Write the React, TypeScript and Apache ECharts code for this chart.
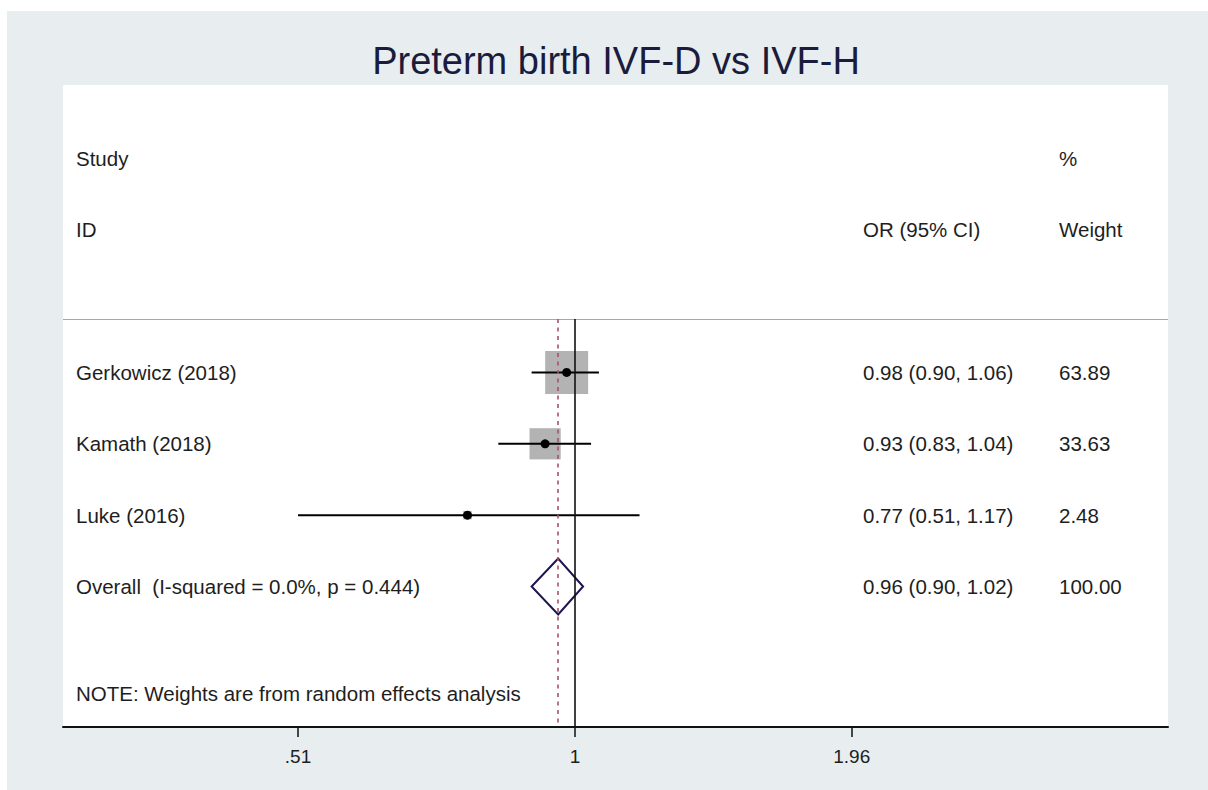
import React, { useEffect, useRef } from 'react';
import * as echarts from 'echarts';

const chartTitle = 'Preterm birth IVF-D vs IVF-H';
const studies = ['Gerkowicz (2018)', 'Kamath (2018)', 'Luke (2016)'];
const estimates = [0.98, 0.93, 0.77];
const lowerCI = [0.9, 0.83, 0.51];
const upperCI = [1.06, 1.04, 1.17];
const weights = [63.89, 33.63, 2.48];
const overallLabel = 'Overall  (I-squared = 0.0%, p = 0.444)';
const overallEstimate = [0.96];
const overallLower = [0.9];
const overallUpper = [1.02];
const overallWeight = [100.0];
const tickValues = [0.51, 1, 1.96];
const tickLabels = ['.51', '1', '1.96'];
const noteText = 'NOTE: Weights are from random effects analysis';

const FONT = '"Liberation Sans", Arial, Helvetica, sans-serif';
const TXT = '#1e1e1e';
const COL_STUDY = 76;
const COL_OR = 863;
const COL_W = 1059;
const FIRST_ROW = 3;
const SEP_ROW = 2.25;
const Y_MIN = -1.03;
const Y_MAX = 7.97;
const X_MIN = 0.288;
const X_MAX = 4.229;
const BOX_SCALE = 43 / Math.sqrt(63.89);

const fmt = (v: number) => v.toFixed(2);

export default function App() {
  const ref = useRef<HTMLDivElement>(null);
  useEffect(() => {
    if (!ref.current) return;
    const chart = echarts.init(ref.current, undefined, { renderer: 'svg' });

    const studyData = studies.map((s, i) => [estimates[i], lowerCI[i], upperCI[i], weights[i], i + FIRST_ROW]);
    const overallRow = FIRST_ROW + studies.length;
    const diamondData = overallEstimate.map((e, i) => [e, overallLower[i], overallUpper[i], overallRow]);

    type TextRow = { text: string; x: number; row: number };
    const textRows: TextRow[] = [
      { text: 'Study', x: COL_STUDY, row: 0 },
      { text: '%', x: COL_W, row: 0 },
      { text: 'ID', x: COL_STUDY, row: 1 },
      { text: 'OR (95% CI)', x: COL_OR, row: 1 },
      { text: 'Weight', x: COL_W, row: 1 },
    ];
    studies.forEach((s, i) => {
      textRows.push({ text: s, x: COL_STUDY, row: i + FIRST_ROW });
      textRows.push({ text: `${fmt(estimates[i])} (${fmt(lowerCI[i])}, ${fmt(upperCI[i])})`, x: COL_OR, row: i + FIRST_ROW });
      textRows.push({ text: fmt(weights[i]), x: COL_W, row: i + FIRST_ROW });
    });
    textRows.push({ text: overallLabel, x: COL_STUDY, row: overallRow });
    textRows.push({
      text: `${fmt(overallEstimate[0])} (${fmt(overallLower[0])}, ${fmt(overallUpper[0])})`,
      x: COL_OR,
      row: overallRow,
    });
    textRows.push({ text: fmt(overallWeight[0]), x: COL_W, row: overallRow });
    textRows.push({ text: noteText, x: COL_STUDY, row: overallRow + 1.5 });

    chart.setOption({
      animation: false,
      backgroundColor: '#e8eef0',
      graphic: [
        { type: 'rect', left: 0, top: 0, shape: { width: 1208, height: 11 }, style: { fill: '#ffffff' } },
        { type: 'rect', left: 0, top: 0, shape: { width: 7, height: 790 }, style: { fill: '#ffffff' } },
        {
          type: 'text',
          x: 616,
          y: 61,
          style: {
            text: chartTitle,
            align: 'center',
            verticalAlign: 'middle',
            fontSize: 38,
            fontFamily: FONT,
            fill: '#1b1b3d',
          },
        },
      ],
      grid: {
        left: 63,
        right: 40,
        top: 85,
        bottom: 63,
        show: true,
        backgroundColor: '#ffffff',
        borderWidth: 0,
      },
      xAxis: {
        type: 'log',
        logBase: 1.96,
        min: X_MIN,
        max: X_MAX,
        position: 'bottom',
        axisLine: { show: true, onZero: false, lineStyle: { color: '#111', width: 2 } },
        axisTick: { show: true, customValues: tickValues, length: 10, lineStyle: { color: '#111', width: 1.5 } },
        axisLabel: {
          customValues: tickValues,
          formatter: (v: number) => {
            const idx = tickValues.findIndex((t) => Math.abs(t - v) < 1e-6);
            return idx >= 0 ? tickLabels[idx] : '';
          },
          margin: 20,
          fontSize: 19,
          fontFamily: FONT,
          color: TXT,
        },
        splitLine: { show: false },
        minorTick: { show: false },
      },
      yAxis: {
        type: 'value',
        inverse: true,
        min: Y_MIN,
        max: Y_MAX,
        show: false,
        splitLine: { show: false },
      },
      series: [
        {
          type: 'scatter',
          data: [],
          silent: true,
          markLine: {
            silent: true,
            symbol: 'none',
            label: { show: false },
            data: [
              [
                { coord: [X_MIN, SEP_ROW], lineStyle: { color: '#a8a8a8', width: 1, type: 'solid' } },
                { coord: [X_MAX, SEP_ROW] },
              ],
              [
                { coord: [1, SEP_ROW], lineStyle: { color: '#111', width: 1.6, type: 'solid' } },
                { coord: [1, Y_MAX] },
              ],
              [
                {
                  coord: [overallEstimate[0], SEP_ROW],
                  lineStyle: { color: '#a4546a', width: 1.6, type: [4, 4.5] },
                },
                { coord: [overallEstimate[0], Y_MAX] },
              ],
            ],
          },
        },
        {
          type: 'custom',
          data: studyData,
          encode: { x: [0, 1, 2], y: 4 },
          renderItem: (params: any, api: any) => {
            const est = api.value(0);
            const lo = api.value(1);
            const hi = api.value(2);
            const w = api.value(3);
            const row = api.value(4);
            const c = api.coord([est, row]);
            const l = api.coord([lo, row]);
            const h = api.coord([hi, row]);
            const side = BOX_SCALE * Math.sqrt(w);
            return {
              type: 'group',
              children: [
                {
                  type: 'rect',
                  shape: { x: c[0] - side / 2, y: c[1] - side / 2, width: side, height: side },
                  style: { fill: '#b3b3b3' },
                },
                {
                  type: 'line',
                  shape: { x1: l[0], y1: l[1], x2: h[0], y2: h[1] },
                  style: { stroke: '#000', lineWidth: 2 },
                },
                {
                  type: 'circle',
                  shape: { cx: c[0], cy: c[1], r: 4.5 },
                  style: { fill: '#000' },
                },
              ],
            };
          },
        },
        {
          type: 'custom',
          data: diamondData,
          encode: { x: [0, 1, 2], y: 3 },
          renderItem: (params: any, api: any) => {
            const est = api.value(0);
            const lo = api.value(1);
            const hi = api.value(2);
            const row = api.value(3);
            const c = api.coord([est, row]);
            const l = api.coord([lo, row]);
            const h = api.coord([hi, row]);
            const half = 28;
            return {
              type: 'polygon',
              shape: {
                points: [
                  [l[0], l[1]],
                  [c[0], c[1] - half],
                  [h[0], h[1]],
                  [c[0], c[1] + half],
                ],
              },
              style: { fill: 'none', stroke: '#1d1650', lineWidth: 2 },
            };
          },
        },
        {
          type: 'custom',
          data: textRows.map((t, i) => [1, t.row, i]),
          encode: { x: 0, y: 1 },
          renderItem: (params: any, api: any) => {
            const t = textRows[params.dataIndex];
            const p = api.coord([1, t.row]);
            return {
              type: 'text',
              style: {
                text: t.text,
                x: t.x,
                y: p[1],
                align: 'left',
                verticalAlign: 'middle',
                fontSize: 20.5,
                fontFamily: FONT,
                fill: TXT,
              },
            };
          },
        },
      ],
    });

    return () => chart.dispose();
  }, []);

  return (
    <div
      ref={ref}
      style={{ position: 'fixed', left: 0, top: 0, width: 1208, height: 790 }}
    />
  );
}
